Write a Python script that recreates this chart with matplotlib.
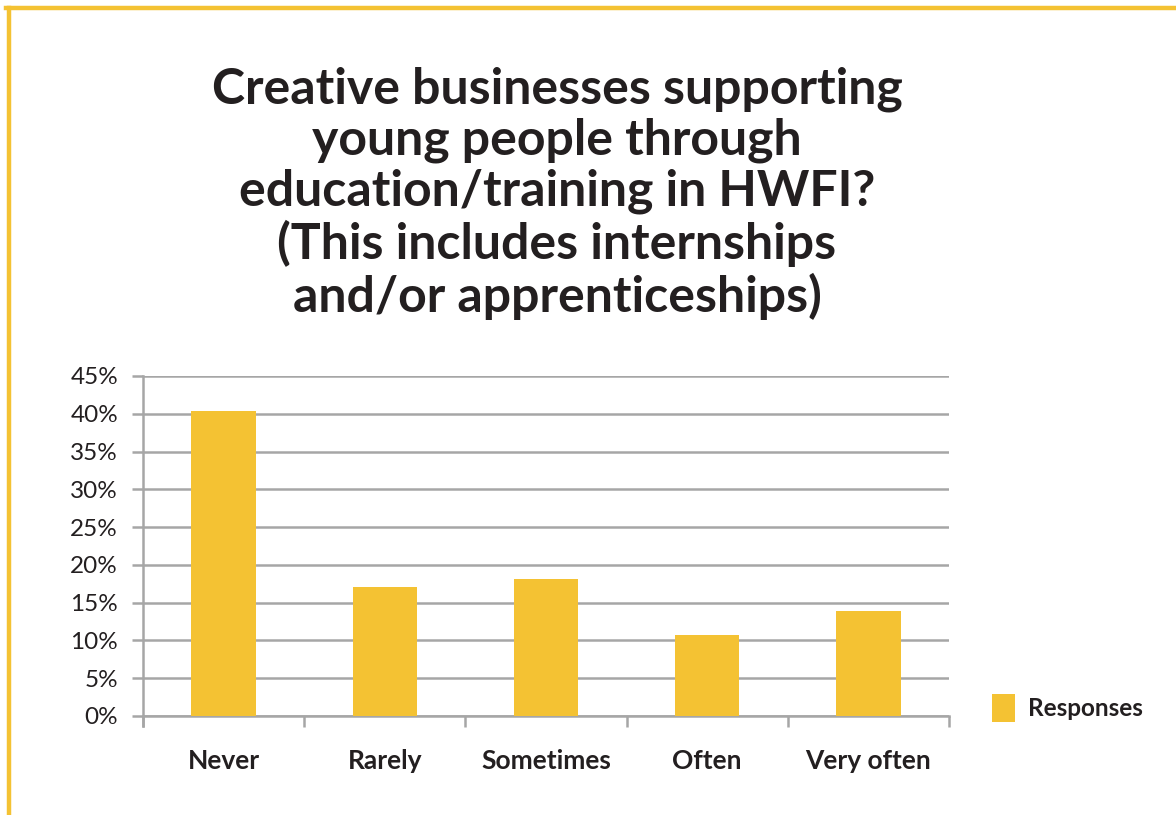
import matplotlib
matplotlib.use("Agg")
import matplotlib.pyplot as plt
from matplotlib.patches import Patch
from matplotlib.lines import Line2D

categories = ["Never", "Rarely", "Sometimes", "Often", "Very often"]
responses = [40.4, 17.1, 18.1, 10.7, 13.9]
y_ticks = [0, 5, 10, 15, 20, 25, 30, 35, 40, 45]
y_tick_labels = [f"{v}%" for v in y_ticks]
title = ("Creative businesses supporting\nyoung people through\n"
         "education/training in HWFI?\n(This includes internships\n"
         "and/or apprenticeships)")

BAR = "#F4C233"
GRID = "#A6A6A6"
TEXT = "#231F20"
W, H = 1176, 815

plt.rcParams["font.family"] = ["Lato", "DejaVu Sans"]

fig = plt.figure(figsize=(W / 100, H / 100), dpi=100)
fig.patch.set_facecolor("white")

# frame lines along the top and left edges
fig.add_artist(Line2D([6 / W, 1.0], [1 - 8 / H, 1 - 8 / H], color=BAR, lw=3.2,
                      transform=fig.transFigure))
fig.add_artist(Line2D([9 / W, 9 / W], [0, 1 - 8 / H], color=BAR, lw=3.2,
                      transform=fig.transFigure))

ax = fig.add_axes([143 / W, 1 - 716 / H, (949 - 143) / W, (716 - 376) / H])
x = list(range(len(categories)))
ax.bar(x, responses, width=0.40, color=BAR, zorder=3, label="Responses")
ax.set_xlim(-0.5, len(categories) - 0.5)
ax.set_ylim(0, 45)

ax.set_yticks(y_ticks)
ax.set_yticklabels(y_tick_labels, fontsize=17.5, color=TEXT)
ax.yaxis.grid(True, color=GRID, lw=1.8, zorder=0)
ax.tick_params(axis="y", length=8, width=1.8, color=GRID, pad=10)

# category boundary ticks below the baseline
ax.set_xticks([i - 0.5 for i in range(len(categories) + 1)])
ax.set_xticklabels([])
ax.tick_params(axis="x", length=8, width=1.8, color=GRID)
for i, c in enumerate(categories):
    ax.text(i, -5.9, c, ha="center", va="center", fontsize=19,
            fontweight="bold", color=TEXT)

for s in ["top", "right"]:
    ax.spines[s].set_visible(False)
ax.spines["left"].set_color(GRID)
ax.spines["left"].set_linewidth(1.8)
ax.spines["left"].set_bounds(-1.3, 45)
ax.spines["bottom"].set_color(GRID)
ax.spines["bottom"].set_linewidth(1.8)

fig.text(557 / W, 1 - 193 / H, title, ha="center", va="center", fontsize=36,
         fontweight="bold", color=TEXT, linespacing=1.15)

fig.legend(handles=[Patch(facecolor=BAR, label="Responses")],
           loc="center left", bbox_to_anchor=(970 / W, 1 - 708 / H),
           frameon=False, prop={"size": 17.5, "weight": "bold"},
           handlelength=0.95, handleheight=1.35, handletextpad=0.55)
for t in fig.legends[0].get_texts():
    t.set_color(TEXT)

fig.savefig("out.png", dpi=100, facecolor="white")
